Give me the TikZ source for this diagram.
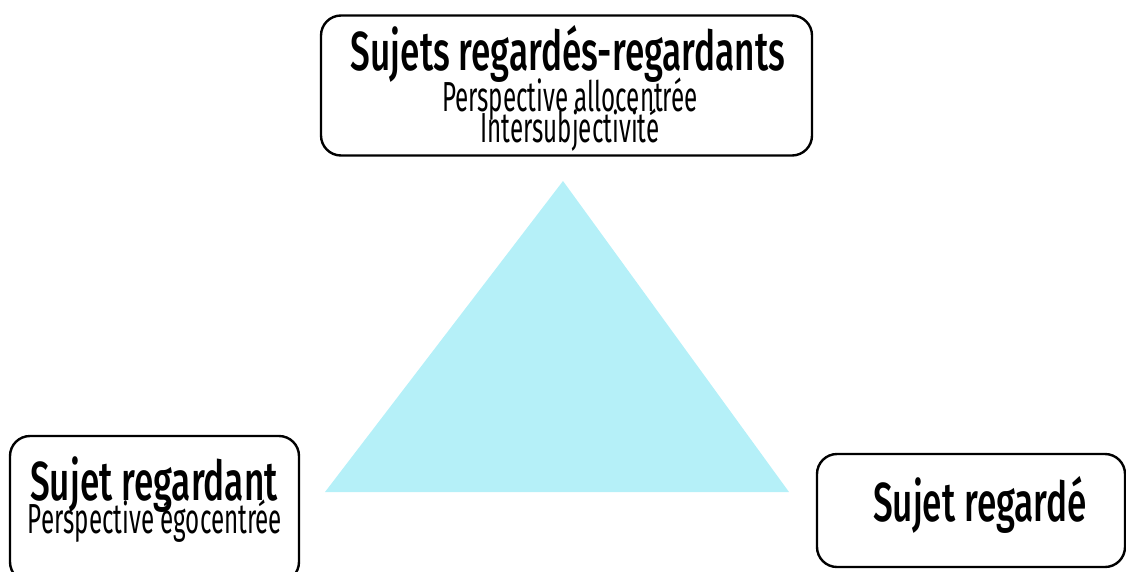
\documentclass[tikz,border=0pt]{standalone}
\usepackage{fontspec}
\setmainfont{Fira Sans}
\newfontfamily\titlefont[FakeStretch=0.64]{Fira Sans Medium}
\newfontfamily\subfont[FakeStretch=0.575]{Fira Sans}
\definecolor{tri}{HTML}{B5F0F8}
\begin{document}
\begin{tikzpicture}[x=1pt,y=-1pt,
  box/.style={draw=black, line width=2.4pt, rounded corners=20pt, fill=white, inner sep=0pt, align=center},
  ttl/.style={font=\titlefont\fontsize{55}{60}\selectfont, inner sep=0pt},
  sub/.style={font=\subfont\fontsize{42}{40}\selectfont, inner sep=0pt}]
\useasboundingbox (0,0) rectangle (1126,571);
\clip (0,0) rectangle (1126,571);
\fill[tri] (563,181) -- (325,492) -- (789,492) -- cycle;
\node[box, minimum width=491pt, minimum height=140pt] (top) at (566.5,85.5) {};
\node[box, minimum width=289pt, minimum height=146pt] (left) at (154.5,509) {};
\node[box, minimum width=308pt, minimum height=113pt] (right) at (971,510.5) {};
\node[ttl, anchor=base] (toptitle) at (568,70) {Sujets regardés-regardants};
\node[sub, anchor=base] (topsub1) at (570,111) {Perspective allocentrée};
\node[sub, anchor=base] (topsub2) at (570,142) {Intersubjectivité};
\node[ttl, anchor=base] (lefttitle) at (154,500) {Sujet regardant};
\node[sub, anchor=base] (leftsub) at (155,533) {Perspective égocentrée};
\node[ttl, anchor=base] (righttitle) at (980,521) {Sujet regardé};
\end{tikzpicture}
\end{document}
